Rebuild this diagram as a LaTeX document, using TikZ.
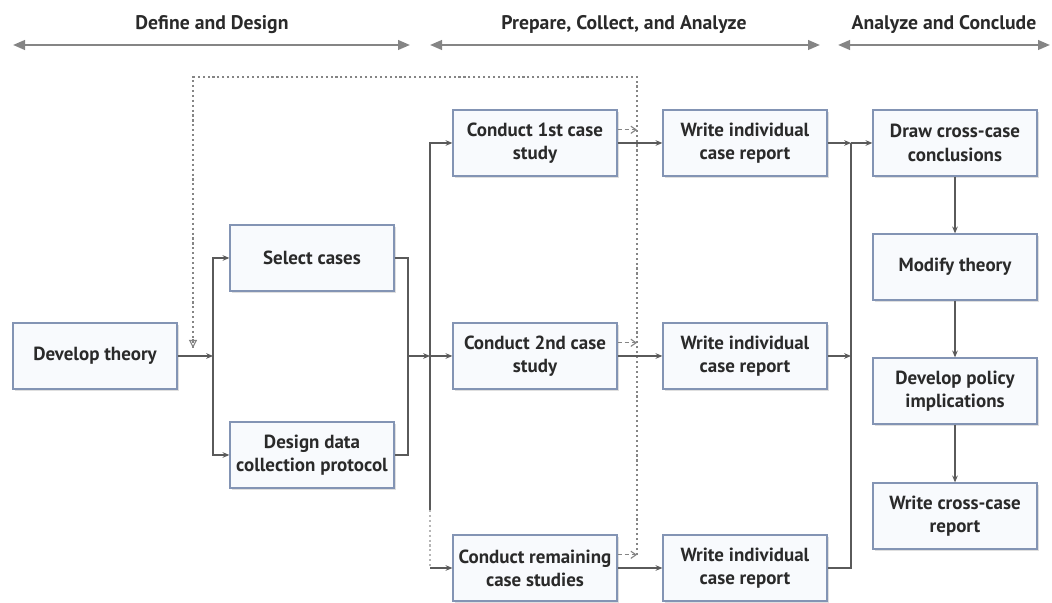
\documentclass[tikz,border=0pt]{standalone}
\usepackage{fontspec}
\setmainfont{PT Sans}
\usetikzlibrary{arrows.meta,shadows}
\definecolor{boxline}{HTML}{8394B4}
\definecolor{boxfill}{HTML}{F8FAFD}
\definecolor{wire}{HTML}{5A5A5A}
\definecolor{phasegray}{HTML}{858585}
\definecolor{ink}{HTML}{2A2A2A}

\begin{document}
\begin{tikzpicture}[font=\bfseries\fontsize{13.5}{16.5}\selectfont,text=ink,stage/.style={draw=boxline, fill=boxfill, line width=0.9pt, minimum width=4.1cm, minimum height=1.65cm, align=center, inner sep=2pt, drop shadow={opacity=0.25, shadow xshift=1.2pt, shadow yshift=-1.2pt}},wire/.style={draw=wire, line width=0.8pt},link/.style={wire, -{Stealth[length=1.7mm,width=1.4mm]}},phasebar/.style={draw=phasegray, line width=1.6pt, {Triangle[length=3mm,width=2.4mm]}-{Triangle[length=3mm,width=2.4mm]}},phaselabel/.style={font=\bfseries\fontsize{14}{16}\selectfont},feedback/.style={draw=phasegray, dash pattern=on 1.5pt off 2pt, line width=1.6pt},retour/.style={draw=phasegray, densely dashed, line width=0.8pt, -{Straight Barb[length=1.3mm,width=1.8mm]}}]
\useasboundingbox (0,0) rectangle (26.3,15.075);
% phases along the top
\coordinate (p1a) at (0.325,13.95);\coordinate (p1b) at (10.25,13.95);\coordinate (p2a) at (10.75,13.95);\coordinate (p2b) at (20.5,13.95);\coordinate (p3a) at (20.95,13.95);\coordinate (p3b) at (26.25,13.95);
\draw[phasebar] (p1a) -- (p1b);\draw[phasebar] (p2a) -- (p2b);\draw[phasebar] (p3a) -- (p3b);
\node[phaselabel] (ph1) at (5.3,14.45) {Define and Design};\node[phaselabel] (ph2) at (15.6,14.45) {Prepare, Collect, and Analyze};\node[phaselabel] (ph3) at (23.6,14.45) {Analyze and Conclude};
% boxes
\node[stage] (theory) at (2.375,6.175) {Develop theory};
\node[stage] (select) at (7.8,8.625) {Select cases};\node[stage] (design) at (7.8,3.7) {Design data\\collection protocol};
\node[stage] (case1) at (13.375,11.5) {Conduct 1st case\\study};\node[stage] (case2) at (13.375,6.175) {Conduct 2nd case\\study};\node[stage] (case3) at (13.375,0.875) {Conduct remaining\\case studies};
\node[stage] (report1) at (18.625,11.5) {Write individual\\case report};\node[stage] (report2) at (18.625,6.175) {Write individual\\case report};\node[stage] (report3) at (18.625,0.875) {Write individual\\case report};
\node[stage] (cross) at (23.875,11.5) {Draw cross-case\\conclusions};\node[stage] (modify) at (23.875,8.4) {Modify theory};\node[stage] (policy) at (23.875,5.3) {Develop policy\\implications};\node[stage] (crossrep) at (23.875,2.175) {Write cross-case\\report};
% feedback loop
\coordinate (loopin) at (4.825,6.375);\coordinate (loopa) at (4.825,13.15);\coordinate (loopb) at (15.925,13.15);\coordinate (loopc) at (15.925,1.2);
\draw[feedback] (loopc) -- (loopb) -- (loopa) -- (loopin);
\draw[phasegray, line width=0.8pt, -{Triangle[open,length=2mm,width=2mm]}] (4.825,6.6) -- (loopin);
\draw[retour] ([yshift=3.3mm]case1.east) -- ([yshift=3.3mm]case1.east -| loopb);\draw[retour] ([yshift=3.3mm]case2.east) -- ([yshift=3.3mm]case2.east -| loopb);\draw[retour] ([yshift=3.3mm]case3.east) -- ([yshift=3.3mm]case3.east -| loopb);
% connectors
\coordinate (split1) at (5.325,6.175);\coordinate (join1) at (10.2,6.175);\coordinate (split2) at (10.75,6.175);\coordinate (busmid) at (10.75,2.325);\coordinate (busfoot) at (10.75,0.875);
\coordinate (merge1) at (21.275,11.5);\coordinate (merge2) at (21.275,6.175);
\draw[link] (theory) -- (split1);\draw[link] (split1) |- (select.west);\draw[link] (split1) |- (design.west);
\draw[wire] (select.east) -| (join1) |- (design.east);\draw[link] (join1) -- (split2);
\draw[link] (split2) |- (case1.west);\draw[link] (split2) -- (case2.west);\draw[wire] (split2) -- (busmid);\draw[phasegray!60, dash pattern=on 1.5pt off 2pt, line width=1.6pt] (busmid) -- (busfoot);\draw[link] (busfoot) -- (case3.west);
\draw[link] (case1) -- (report1);\draw[link] (case2) -- (report2);\draw[link] (case3) -- (report3);
\draw[link] (report1) -- (merge1);\draw[link] (merge1) -- (cross);\draw[link] (report2) -- (merge2);\draw[wire] (report3.east) -| (merge1);
\draw[link] (cross) -- (modify);\draw[link] (modify) -- (policy);\draw[link] (policy) -- (crossrep);
\end{tikzpicture}
\end{document}
